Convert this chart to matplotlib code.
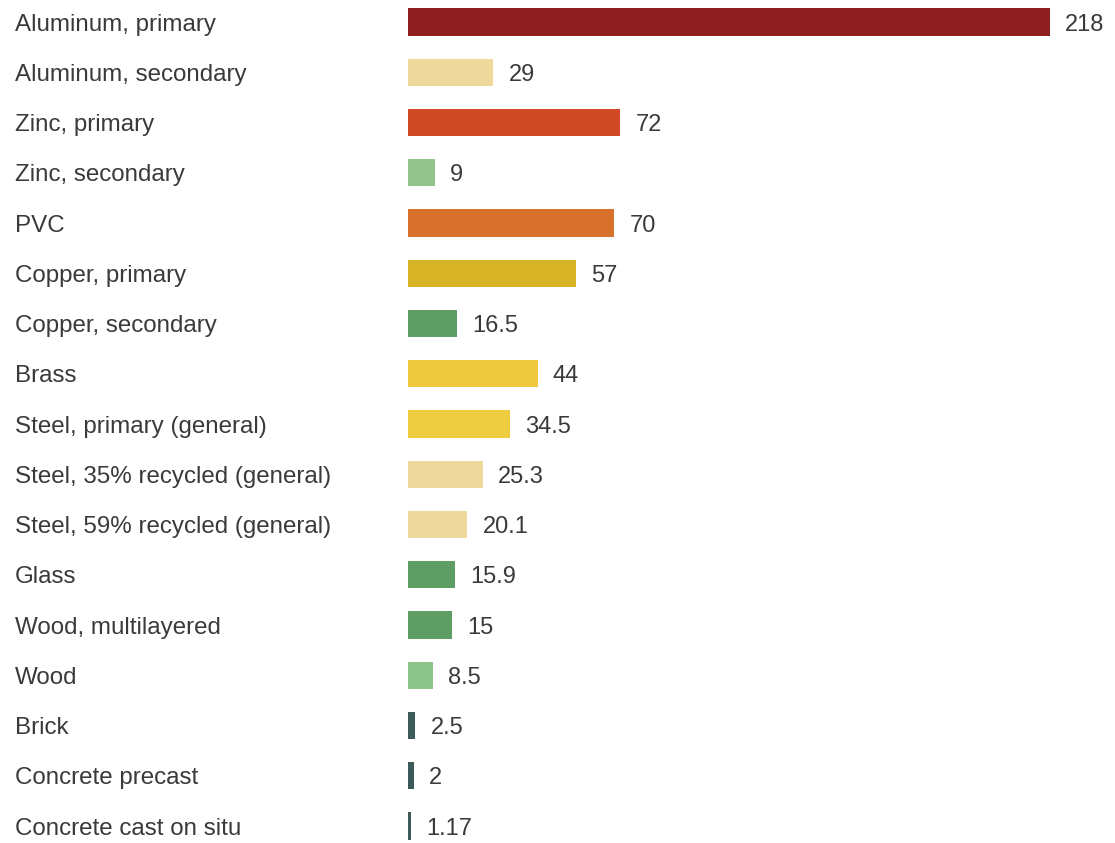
import matplotlib.pyplot as plt

materials = ["Aluminum, primary", "Aluminum, secondary", "Zinc, primary",
             "Zinc, secondary", "PVC", "Copper, primary", "Copper, secondary",
             "Brass", "Steel, primary (general)", "Steel, 35% recycled (general)",
             "Steel, 59% recycled (general)", "Glass", "Wood, multilayered",
             "Wood", "Brick", "Concrete precast", "Concrete cast on situ"]
values = [218, 29, 72, 9, 70, 57, 16.5, 44, 34.5, 25.3, 20.1, 15.9, 15, 8.5, 2.5, 2, 1.17]
value_labels = ["218", "29", "72", "9", "70", "57", "16.5", "44", "34.5", "25.3",
                "20.1", "15.9", "15", "8.5", "2.5", "2", "1.17"]
colors = ["#8e1f20", "#eed89c", "#cf4a25", "#93c48c", "#d8712b", "#d6b425",
          "#5e9e64", "#eec93e", "#efcd40", "#eed89c", "#eed89c", "#5e9e64",
          "#5e9e64", "#8cc48a", "#3d5a5a", "#3d5a5a", "#3d5a5a"]

plt.rcParams['font.family'] = ['Liberation Sans', 'DejaVu Sans']
text_col = "#3a3a3a"

fig = plt.figure(figsize=(11.15, 8.43), dpi=100)
ax = fig.add_axes([408 / 1115, 0, (1110 - 408) / 1115, 1])

rows = list(range(len(materials)))
ax.barh(rows, values, height=0.54, color=colors, align='center')

# value labels after each bar
for r, v, lab in zip(rows, values, value_labels):
    ax.annotate(lab, xy=(v, r), xytext=(11, 0), textcoords='offset points',
                ha='left', va='center_baseline', fontsize=17, color=text_col)

# category labels on the left, left aligned
for r, name in zip(rows, materials):
    ax.text(-408 / 2.945 + 15 / 2.945, r, name, ha='left', va='center_baseline',
            fontsize=17.4, color=text_col, clip_on=False)

ax.set_xlim(0, (1110 - 408) / 2.945)
ax.set_ylim(16.338, -0.438)
ax.axis('off')

fig.savefig("out.png", dpi=100)
